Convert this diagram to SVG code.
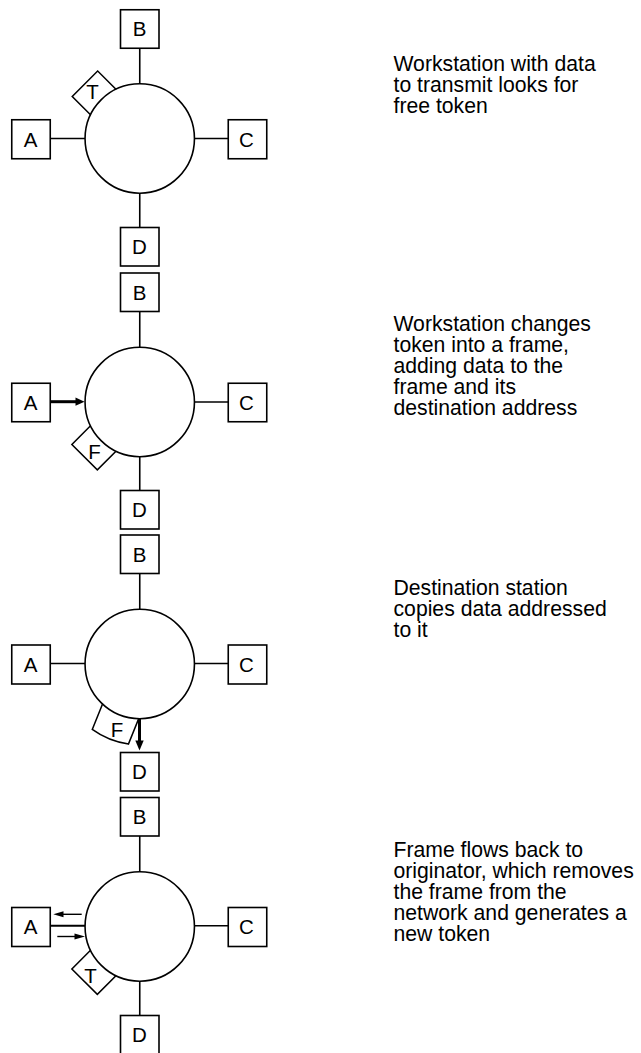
<svg xmlns="http://www.w3.org/2000/svg" width="641" height="1053" viewBox="0 0 641 1053">
<style>
.box{fill:#fff;stroke:#000;stroke-width:1.6}
.ring{fill:#fff;stroke:#000;stroke-width:1.6}
.tok{fill:#fff;stroke:#000;stroke-width:1.5;stroke-linejoin:miter}
.lnk{stroke:#000;stroke-width:1.6;fill:none}
.thick{stroke:#000;stroke-width:3;fill:none}
.thin{stroke:#000;stroke-width:1.4;fill:none}
.head{fill:#000;stroke:none}
.lbl{font-family:"Liberation Sans",Arial,sans-serif;font-size:20.5px;text-anchor:middle;fill:#000}
.desc{font-family:"Liberation Sans",Arial,sans-serif;font-size:21.2px;fill:#000}
</style>
<rect width="641" height="1053" fill="#fff"/>

<!-- connectors -->
<g id="connectors">
  <!-- panel 1 -->
  <line class="lnk" x1="139.75" y1="48" x2="139.75" y2="84"/>
  <line class="lnk" x1="50.25" y1="138.5" x2="85" y2="138.5"/>
  <line class="lnk" x1="194.5" y1="138.5" x2="228.25" y2="138.5"/>
  <line class="lnk" x1="139.75" y1="193" x2="139.75" y2="227.5"/>
  <!-- panel 2 -->
  <line class="lnk" x1="139.75" y1="311.5" x2="139.75" y2="347.5"/>
  <line class="thick" x1="50.25" y1="401.7" x2="77" y2="401.7"/>
  <polygon class="head" points="75.5,397.6 84.5,401.7 75.5,405.8"/>
  <line class="lnk" x1="194.5" y1="402" x2="228.25" y2="402"/>
  <line class="lnk" x1="139.75" y1="456.5" x2="139.75" y2="490.5"/>
  <!-- panel 3 -->
  <line class="lnk" x1="139.75" y1="573.5" x2="139.75" y2="609.5"/>
  <line class="lnk" x1="50.25" y1="663.5" x2="85" y2="663.5"/>
  <line class="lnk" x1="194.5" y1="663.5" x2="228.25" y2="663.5"/>
  <line class="thick" x1="139.5" y1="718.5" x2="139.5" y2="742"/>
  <polygon class="head" points="135.3,740.5 143.7,740.5 139.5,750.5"/>
  <!-- panel 4 -->
  <line class="lnk" x1="139.75" y1="836" x2="139.75" y2="872"/>
  <line class="lnk" x1="50.25" y1="925.7" x2="85" y2="925.7" style="stroke-width:2"/>
  <line class="thin" x1="62" y1="914.3" x2="81.7" y2="914.3"/>
  <polygon class="head" points="53.3,914.3 63.5,911.3 63.5,917.3"/>
  <line class="thin" x1="57.3" y1="936.5" x2="75" y2="936.5"/>
  <polygon class="head" points="85,936.5 74.5,933.5 74.5,939.5"/>
  <line class="lnk" x1="194.5" y1="925.7" x2="228.25" y2="925.7"/>
  <line class="lnk" x1="139.75" y1="981" x2="139.75" y2="1015.5"/>
</g>

<!-- panel 1 -->
<g id="p1-token">
  <polygon class="tok" transform="translate(139.75,138.5) rotate(-135)" points="40,-18 77.5,-18 77.5,18 40,18"/>
</g>
<g id="p1-ring"><circle class="ring" cx="139.75" cy="138.5" r="54.7"/></g>
<g id="p1-token-label"><text class="lbl" x="92.5" y="98.5">T</text></g>
<g id="p1-B"><rect class="box" x="120.5" y="9.75" width="38.5" height="38.5"/><text class="lbl" x="139.5" y="36">B</text></g>
<g id="p1-A"><rect class="box" x="11.75" y="119.75" width="38.5" height="39"/><text class="lbl" x="30.5" y="146.5">A</text></g>
<g id="p1-C"><rect class="box" x="228.25" y="119.75" width="38.5" height="39"/><text class="lbl" x="246.5" y="146.5">C</text></g>
<g id="p1-D"><rect class="box" x="120.5" y="227.5" width="38.5" height="38.5"/><text class="lbl" x="139.5" y="254">D</text></g>
<g id="p1-desc"><text class="desc" x="393.5" y="71">Workstation with data</text><text class="desc" x="393.5" y="92">to transmit looks for</text><text class="desc" x="393.5" y="113">free token</text></g>

<!-- panel 2 -->
<g id="p2-token">
  <polygon class="tok" transform="translate(139.75,402) rotate(135)" points="40,-18 78,-18 78,18 40,18"/>
</g>
<g id="p2-ring"><circle class="ring" cx="139.75" cy="402" r="54.7"/></g>
<g id="p2-token-label"><text class="lbl" x="94.5" y="458.5">F</text></g>
<g id="p2-B"><rect class="box" x="120.5" y="273" width="38.5" height="38.5"/><text class="lbl" x="139.5" y="299.5">B</text></g>
<g id="p2-A"><rect class="box" x="11.75" y="383.25" width="38.5" height="38.5"/><text class="lbl" x="30.5" y="409.8">A</text></g>
<g id="p2-C"><rect class="box" x="228.25" y="383.25" width="38.5" height="38.5"/><text class="lbl" x="246.5" y="409.8">C</text></g>
<g id="p2-D"><rect class="box" x="120.5" y="490.5" width="38.5" height="38.5"/><text class="lbl" x="139.5" y="517">D</text></g>
<g id="p2-desc"><text class="desc" x="393.5" y="331">Workstation changes</text><text class="desc" x="393.5" y="352">token into a frame,</text><text class="desc" x="393.5" y="373">adding data to the</text><text class="desc" x="393.5" y="394">frame and its</text><text class="desc" x="393.5" y="415">destination address</text></g>

<!-- panel 3 -->
<g id="p3-token">
  <path class="tok" transform="translate(139.75,664) rotate(112)" d="M40,-19.5 L78.5,-19.5 A81,81 0 0 1 78.5,19.5 L40,19.5 Z"/>
</g>
<g id="p3-ring"><circle class="ring" cx="139.75" cy="664" r="54.7"/></g>
<g id="p3-token-label"><text class="lbl" x="117" y="737">F</text></g>
<g id="p3-B"><rect class="box" x="120.5" y="535" width="38.5" height="38.5"/><text class="lbl" x="139.5" y="561.5">B</text></g>
<g id="p3-A"><rect class="box" x="11.75" y="645" width="38.5" height="39"/><text class="lbl" x="30.5" y="671.8">A</text></g>
<g id="p3-C"><rect class="box" x="228.25" y="645" width="38.5" height="39"/><text class="lbl" x="246.5" y="671.8">C</text></g>
<g id="p3-D"><rect class="box" x="120.5" y="752.5" width="38.5" height="38.5"/><text class="lbl" x="139.5" y="779">D</text></g>
<g id="p3-desc"><text class="desc" x="393.5" y="595">Destination station</text><text class="desc" x="393.5" y="616">copies data addressed</text><text class="desc" x="393.5" y="637">to it</text></g>

<!-- panel 4 -->
<g id="p4-token">
  <polygon class="tok" transform="translate(139.75,926.5) rotate(135)" points="40,-18 78,-18 78,18 40,18"/>
</g>
<g id="p4-ring"><circle class="ring" cx="139.75" cy="926.5" r="54.7"/></g>
<g id="p4-token-label"><text class="lbl" x="90.5" y="983">T</text></g>
<g id="p4-B"><rect class="box" x="120.5" y="797.5" width="38.5" height="38.5"/><text class="lbl" x="139.5" y="824">B</text></g>
<g id="p4-A"><rect class="box" x="11.75" y="907.5" width="38.5" height="39"/><text class="lbl" x="30.5" y="934">A</text></g>
<g id="p4-C"><rect class="box" x="228.25" y="907.5" width="38.5" height="39"/><text class="lbl" x="246.5" y="934">C</text></g>
<g id="p4-D"><rect class="box" x="120.5" y="1015.5" width="38.5" height="38.5"/><text class="lbl" x="139.5" y="1042">D</text></g>
<g id="p4-desc"><text class="desc" x="393.5" y="857.3">Frame flows back to</text><text class="desc" x="393.5" y="878.3">originator, which removes</text><text class="desc" x="393.5" y="899.3">the frame from the</text><text class="desc" x="393.5" y="920.3">network and generates a</text><text class="desc" x="393.5" y="941.3">new token</text></g>
</svg>
